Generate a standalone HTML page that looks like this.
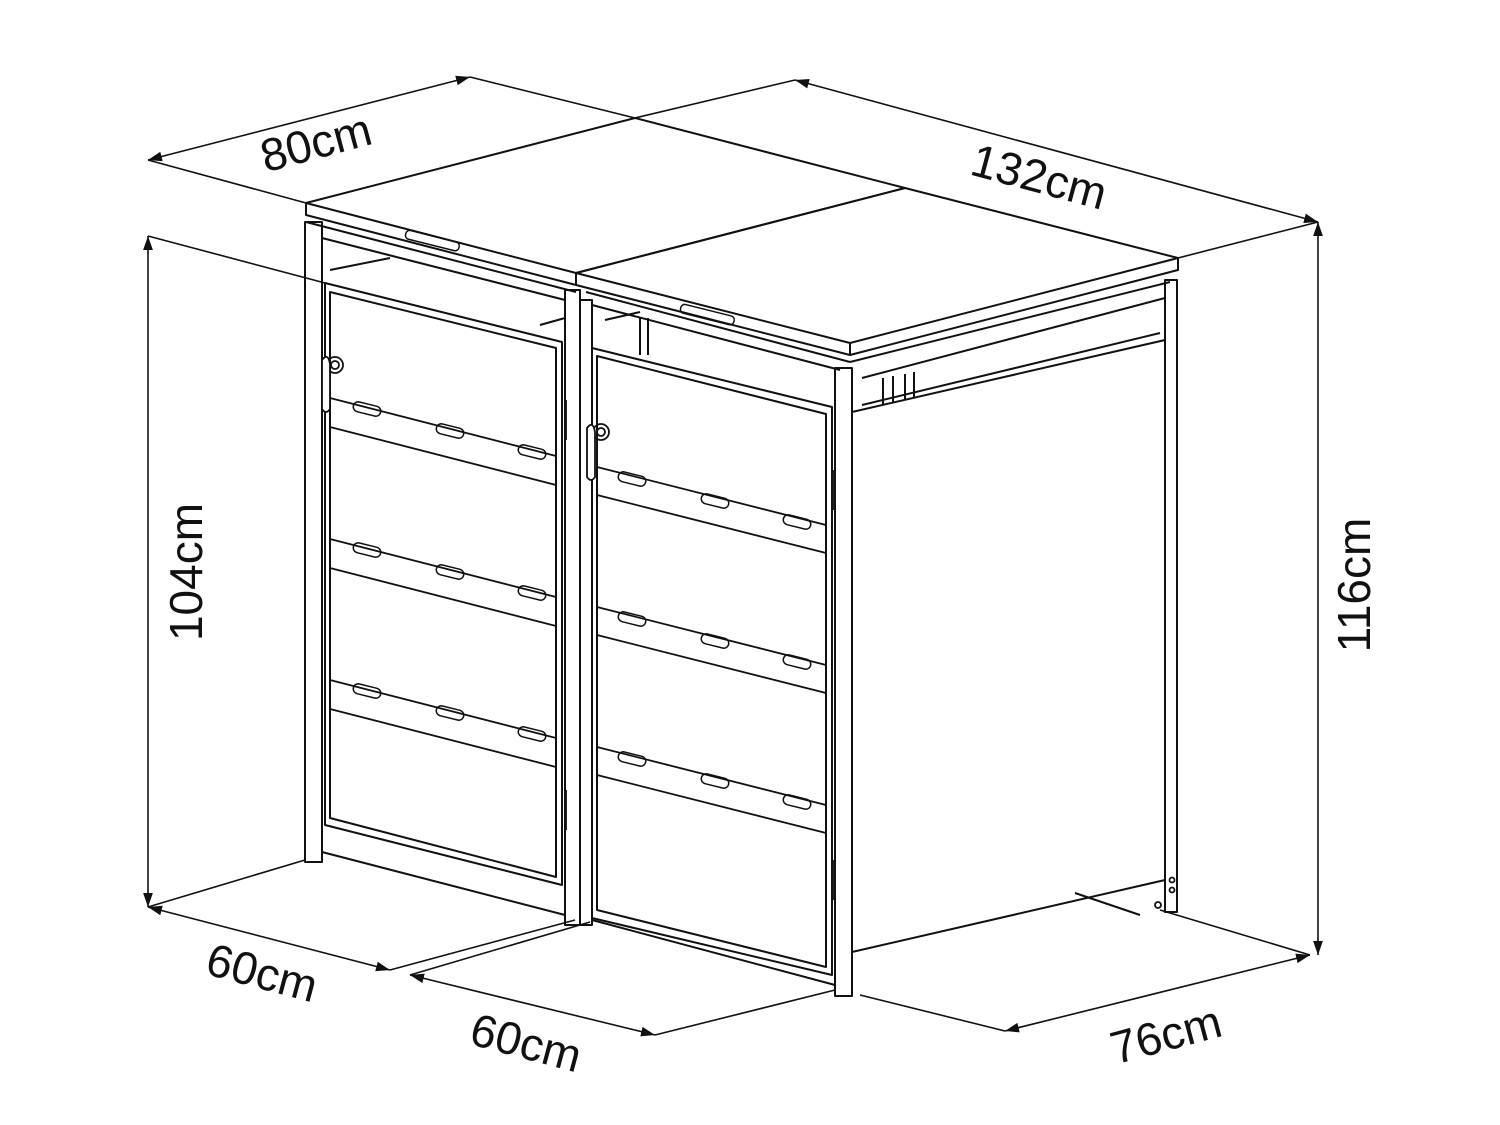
<!DOCTYPE html>
<html><head><meta charset="utf-8"><style>
html,body{margin:0;padding:0;background:#fff;}
svg{display:block}
text{font-family:"Liberation Sans",sans-serif;font-size:46px;fill:#111}
</style></head><body>
<svg width="1500" height="1125" viewBox="0 0 1500 1125" xmlns="http://www.w3.org/2000/svg">
<defs>
<marker id="ar" viewBox="0 0 10 10" refX="10" refY="5" markerWidth="14" markerHeight="14" markerUnits="userSpaceOnUse" orient="auto-start-reverse">
<path d="M0,1.5 L10,5 L0,8.5 z" fill="#111"/></marker>
</defs>
<g stroke="#111" stroke-width="1.6" fill="none">
<!-- dimension extension lines -->
<line x1="148" y1="160" x2="306" y2="203"/>
<line x1="470" y1="77" x2="635" y2="118"/>
<line x1="635" y1="118" x2="795" y2="80"/>
<line x1="1178" y1="258" x2="1318" y2="222"/>
<line x1="148" y1="236" x2="325" y2="283"/>
<line x1="148" y1="907" x2="305" y2="860"/>
<line x1="390" y1="970" x2="575" y2="920"/>
<line x1="410" y1="975" x2="590" y2="922"/>
<line x1="655" y1="1035" x2="835" y2="990"/>
<line x1="1005" y1="1031" x2="860" y2="995"/>
<line x1="1310" y1="955" x2="1160" y2="910"/>
<!-- arrows -->
<line x1="148" y1="160" x2="470" y2="77" marker-start="url(#ar)" marker-end="url(#ar)"/>
<line x1="795" y1="80" x2="1318" y2="222" marker-start="url(#ar)" marker-end="url(#ar)"/>
<line x1="148" y1="236" x2="148" y2="907" marker-start="url(#ar)" marker-end="url(#ar)"/>
<line x1="1318" y1="222" x2="1318" y2="955" marker-start="url(#ar)" marker-end="url(#ar)"/>
<line x1="148" y1="907" x2="390" y2="970" marker-start="url(#ar)" marker-end="url(#ar)"/>
<line x1="410" y1="975" x2="655" y2="1035" marker-start="url(#ar)" marker-end="url(#ar)"/>
<line x1="1005" y1="1031" x2="1310" y2="955" marker-start="url(#ar)" marker-end="url(#ar)"/>
</g>
<g stroke="#111" stroke-width="2" fill="none" stroke-linejoin="round">
<!-- lids top -->
<polygon points="306,203 635,118 905,188 576,273"/>
<polygon points="576,273 905,188 1178,258 850,343"/>
<!-- lid front faces -->
<polyline points="306,203 306,215 576,285 576,273"/>
<polyline points="576,285 850,355 850,343"/>
<polyline points="850,355 1178,270 1178,258"/>
<!-- rails under lid -->
<polyline points="306,222 576,292"/>
<polyline points="322,238 565,300"/>
<polyline points="586,292 850,362"/>
<polyline points="592,305 840,370"/>
<polyline points="850,362 1170,282"/>
<polyline points="862,378 1165,298"/>
<!-- posts -->
<rect x="305" y="222" width="17" height="640"/>
<rect x="565" y="290" width="15" height="635"/>
<rect x="580" y="300" width="12" height="625"/>
<rect x="835" y="368" width="17" height="628"/>
<rect x="1165" y="280" width="12" height="632"/>
<!-- left door -->
<polygon points="325,283 562,342 562,885 325,825"/>
<polygon points="330,292 556,348 556,877 330,818"/>
<!-- right door -->
<polygon points="592,348 832,407 832,975 592,918"/>
<polygon points="597,356 826,414 826,967 597,910"/>
<!-- side panel -->
<polygon points="852,412 1165,340 1165,880 852,952"/>
<line x1="862" y1="405" x2="1160" y2="333"/>
<!-- base plates -->
<line x1="322" y1="852" x2="565" y2="915"/>
<line x1="592" y1="920" x2="835" y2="985"/>
<line x1="1075" y1="893" x2="1140" y2="915"/>
<!-- back interior -->
<line x1="330" y1="270" x2="390" y2="258"/>
<line x1="540" y1="325" x2="565" y2="318"/>
<line x1="605" y1="320" x2="640" y2="312"/>
<line x1="640" y1="318" x2="640" y2="355"/>
<line x1="648" y1="318" x2="648" y2="355"/>
<line x1="883" y1="378" x2="883" y2="405"/>
<line x1="893" y1="376" x2="893" y2="403"/>
<line x1="905" y1="374" x2="905" y2="400"/>
<line x1="914" y1="372" x2="914" y2="398"/>
</g>
<g stroke="#111" stroke-width="1.8" fill="none">
<!-- left door bands -->
<line x1="330" y1="398" x2="556" y2="456"/><line x1="330" y1="427" x2="556" y2="485"/>
<line x1="330" y1="539" x2="556" y2="597"/><line x1="330" y1="568" x2="556" y2="626"/>
<line x1="330" y1="680" x2="556" y2="738"/><line x1="330" y1="709" x2="556" y2="767"/>
<!-- right door bands -->
<line x1="597" y1="467" x2="826" y2="525"/><line x1="597" y1="495" x2="826" y2="553"/>
<line x1="597" y1="607" x2="826" y2="665"/><line x1="597" y1="635" x2="826" y2="693"/>
<line x1="597" y1="747" x2="826" y2="805"/><line x1="597" y1="775" x2="826" y2="833"/>
<!-- slots -->
<g stroke-width="1.5">
<rect x="353" y="404" width="28" height="10" rx="5" transform="rotate(14 367 409)"/>
<rect x="436" y="426" width="28" height="10" rx="5" transform="rotate(14 450 431)"/>
<rect x="518" y="447" width="28" height="10" rx="5" transform="rotate(14 532 452)"/>
<rect x="353" y="545" width="28" height="10" rx="5" transform="rotate(14 367 550)"/>
<rect x="436" y="567" width="28" height="10" rx="5" transform="rotate(14 450 572)"/>
<rect x="518" y="588" width="28" height="10" rx="5" transform="rotate(14 532 593)"/>
<rect x="353" y="686" width="28" height="10" rx="5" transform="rotate(14 367 691)"/>
<rect x="436" y="708" width="28" height="10" rx="5" transform="rotate(14 450 713)"/>
<rect x="518" y="729" width="28" height="10" rx="5" transform="rotate(14 532 734)"/>
<rect x="618" y="474" width="28" height="10" rx="5" transform="rotate(14 632 479)"/>
<rect x="701" y="496" width="28" height="10" rx="5" transform="rotate(14 715 501)"/>
<rect x="783" y="517" width="28" height="10" rx="5" transform="rotate(14 797 522)"/>
<rect x="618" y="614" width="28" height="10" rx="5" transform="rotate(14 632 619)"/>
<rect x="701" y="636" width="28" height="10" rx="5" transform="rotate(14 715 641)"/>
<rect x="783" y="657" width="28" height="10" rx="5" transform="rotate(14 797 662)"/>
<rect x="618" y="754" width="28" height="10" rx="5" transform="rotate(14 632 759)"/>
<rect x="701" y="776" width="28" height="10" rx="5" transform="rotate(14 715 781)"/>
<rect x="783" y="797" width="28" height="10" rx="5" transform="rotate(14 797 802)"/>
<!-- lid handles -->
<rect x="405" y="236" width="55" height="9" rx="4" transform="rotate(14 432 240)"/>
<rect x="680" y="310" width="55" height="9" rx="4" transform="rotate(14 707 314)"/>
</g>
<!-- locks -->
<circle cx="335" cy="365" r="8"/><circle cx="335" cy="365" r="4"/>
<path d="M322,360 q6,-8 8,4 l0,45 q-4,6 -8,0 z" fill="#fff"/>
<circle cx="601" cy="432" r="8"/><circle cx="601" cy="432" r="4"/>
<path d="M587,428 q6,-8 8,4 l0,45 q-4,6 -8,0 z" fill="#fff"/>
<!-- hinges -->
<line x1="566" y1="400" x2="566" y2="440"/><line x1="566" y1="790" x2="566" y2="830"/>
<line x1="834" y1="470" x2="834" y2="510"/><line x1="834" y1="860" x2="834" y2="900"/>
<circle cx="1172" cy="880" r="2.5"/><circle cx="1172" cy="890" r="2.5"/><circle cx="1158" cy="905" r="3"/>
</g>
<text transform="translate(320,158) rotate(-15)" text-anchor="middle">80cm</text>
<text transform="translate(1035,192) rotate(15)" text-anchor="middle">132cm</text>
<text transform="translate(202,572) rotate(-90)" text-anchor="middle">104cm</text>
<text transform="translate(1370,585) rotate(-90)" text-anchor="middle">116cm</text>
<text transform="translate(258,988) rotate(15)" text-anchor="middle">60cm</text>
<text transform="translate(522,1058) rotate(15)" text-anchor="middle">60cm</text>
<text transform="translate(1170,1050) rotate(-15)" text-anchor="middle">76cm</text>
</svg>
</body></html>
